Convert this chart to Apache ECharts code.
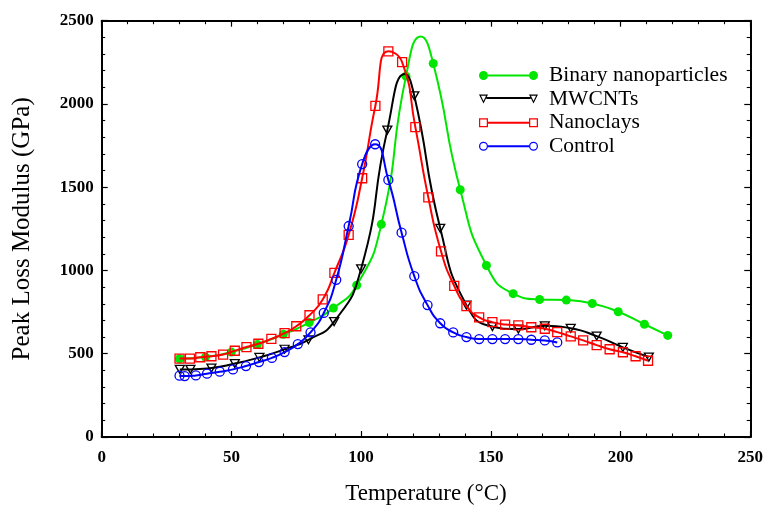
<!DOCTYPE html>
<html><head><meta charset="utf-8">
<script src="https://cdn.jsdelivr.net/npm/echarts@6/dist/echarts.min.js"></script>
<style>html,body{margin:0;padding:0;background:#fff}#c{width:766px;height:510px}</style>
</head><body><div id="c"></div>
<script>
// ---- data ----
const seriesNames = ['Binary nanoparticles', 'MWCNTs', 'Nanoclays', 'Control'];
const xTicks = [0, 50, 100, 150, 200, 250];
const yTicks = [0, 500, 1000, 1500, 2000, 2500];

const binaryT   = [30, 40, 50, 60, 70, 80, 89.3, 98.3, 107.8, 117.3, 127.8, 138.2, 148.3, 158.6, 168.8, 179.1, 189.1, 199.1, 209.2, 218.2];
const binaryVal = [470, 480, 510, 556, 617, 687, 774, 911, 1277, 2167, 2243, 1485, 1030, 861, 826, 822, 802, 752, 677, 610];
const binaryPeak = [123, 2405];   // top of the drawn curve (no marker)

const mwcntT   = [30.1, 34.2, 42.3, 51.3, 60.8, 70.5, 79.7, 89.6, 100, 110.1, 120.5, 130.5, 140.6, 150.6, 160.6, 170.8, 180.8, 190.8, 200.9, 210.9];
const mwcntVal = [406, 406, 414, 441, 478, 527, 584, 693, 1010, 1843, 2049, 1253, 792, 663, 648, 668, 653, 606, 538, 480];
const mwcntPeak = [116.9, 2180];

const clayT   = [30, 34, 38, 42.3, 46.8, 51.3, 55.8, 60.4, 65.4, 70.5, 75, 80.1, 85.2, 89.7, 95.2, 100.4, 105.5, 110.5, 115.8, 120.9, 125.9, 130.8, 135.9, 140.6, 145.5, 150.6, 155.5, 160.6, 165.6, 170.8, 175.6, 180.8, 185.6, 190.8, 195.8, 200.9, 205.8, 210.6];
const clayVal = [471, 471, 479, 485, 495, 518, 540, 560, 589, 624, 665, 731, 826, 986, 1214, 1554, 1989, 2316, 2251, 1861, 1439, 1115, 907, 786, 718, 690, 675, 670, 659, 650, 630, 604, 580, 552, 527, 509, 485, 458];

const controlT   = [30, 32, 36.3, 40.6, 45.5, 50.6, 55.6, 60.6, 65.6, 70.5, 75.6, 80.5, 85.6, 90.4, 95.2, 100.4, 105.4, 110.5, 115.6, 120.5, 125.6, 130.5, 135.5, 140.6, 145.5, 150.6, 155.5, 160.6, 165.6, 170.8, 175.6];
const controlVal = [368, 366, 370, 380, 392, 406, 426, 450, 475, 510, 558, 628, 745, 944, 1267, 1639, 1758, 1544, 1227, 966, 792, 683, 628, 600, 588, 588, 588, 588, 584, 580, 568];

const colors = ['#00e600', '#000000', '#ff0000', '#0000ff'];

// ---- helpers ----
function build(T, V, peak) {
  const pts = T.map((t, i) => ({ value: [t, V[i]] }));
  if (peak) pts.push({ value: [peak[0], peak[1]], symbol: 'none' });
  pts.sort((a, b) => a.value[0] - b.value[0]);
  return pts;
}
function circ(cx, cy, r, cw) {
  const s = cw ? 1 : 0;
  return `M${cx - r} ${cy}A${r} ${r} 0 1 ${s} ${cx + r} ${cy}A${r} ${r} 0 1 ${s} ${cx - r} ${cy}Z`;
}
function poly(p) { return 'M' + p.map(q => q[0] + ' ' + q[1]).join('L') + 'Z'; }
function shift(p, dx) { return p.map(q => [q[0] + dx, q[1]]); }
const W = 59, H = 9, R = 4.5, SW = 1.25;
const iconBinary = 'path://' + circ(R, R, R, true) + circ(W - R, R, R, true) + poly([[9, 3.5], [50, 3.5], [50, 5.5], [9, 5.5]]);
const iconControl = 'path://' + circ(R, R, R, true) + circ(R, R, R - SW, false) + circ(W - R, R, R, true) + circ(W - R, R, R - SW, false) + poly([[9, 3.5], [50, 3.5], [50, 5.5], [9, 5.5]]);
const sqO = [[0, 0], [9, 0], [9, 9], [0, 9]], sqI = [[SW, SW], [SW, 9 - SW], [9 - SW, 9 - SW], [9 - SW, SW]];
const iconClay = 'path://' + poly(sqO) + poly(sqI) + poly(shift(sqO, 50)) + poly(shift(sqI, 50)) + poly([[9, 3.5], [50, 3.5], [50, 5.5], [9, 5.5]]);
const trO = [[0, 0], [9, 0], [4.5, 9]], trI = [[1.94, 1.2], [4.5, 6.31], [7.06, 1.2]];
const iconMw = 'path://' + poly(trO) + poly(trI) + poly(shift(trO, 50)) + poly(shift(trI, 50)) + poly([[7.3, 2.5], [51.7, 2.5], [51.7, 4.5], [7.3, 4.5]]);

const serif = 'Liberation Serif';
const axisBase = {
  axisLine: { show: true, onZero: false, lineStyle: { color: '#000', width: 2 } },
  axisTick: { show: true, inside: true, length: 6, lineStyle: { color: '#000', width: 1.2 } },
  minorTick: { show: true, splitNumber: 5, length: 3.5, lineStyle: { color: '#000', width: 1.1 } },
  splitLine: { show: false },
  minorSplitLine: { show: false }
};
const tickLabel = { fontFamily: serif, fontWeight: 'bold', fontSize: 17, color: '#000', formatter: v => String(v) };

function lineSeries(idx, data, symbol, size, hollow, extra) {
  return Object.assign({
    name: seriesNames[idx], type: 'line', data: data, smooth: 0.55,
    symbol: symbol, symbolSize: size, showSymbol: true,
    lineStyle: { color: colors[idx], width: 2 },
    itemStyle: hollow ? { color: 'rgba(0,0,0,0)', borderColor: colors[idx], borderWidth: 1.3 }
                      : { color: colors[idx], borderWidth: 0 },
    emphasis: { disabled: true }, z: 2 + idx
  }, extra || {});
}

const chart = echarts.init(document.getElementById('c'), null, { renderer: 'canvas' });
chart.setOption({
  animation: false,
  backgroundColor: '#fff',
  grid: { left: 101.7, right: 14, top: 20.7, bottom: 68.3, containLabel: false },
  xAxis: [
    Object.assign({}, axisBase, {
      type: 'value', min: xTicks[0], max: xTicks[xTicks.length - 1], interval: xTicks[1] - xTicks[0],
      position: 'bottom',
      axisLabel: Object.assign({ margin: 12 }, tickLabel),
      name: 'Temperature (\u00B0C)', nameLocation: 'middle', nameGap: 45,
      nameTextStyle: { fontFamily: serif, fontSize: 23, color: '#000' }
    }),
    Object.assign({}, axisBase, {
      type: 'value', min: xTicks[0], max: xTicks[xTicks.length - 1], interval: xTicks[1] - xTicks[0],
      position: 'top', axisLabel: { show: false }
    })
  ],
  yAxis: [
    Object.assign({}, axisBase, {
      type: 'value', min: yTicks[0], max: yTicks[yTicks.length - 1], interval: yTicks[1] - yTicks[0],
      position: 'left',
      axisLabel: Object.assign({ margin: 8 }, tickLabel),
      name: 'Peak Loss Modulus (GPa)', nameLocation: 'middle', nameGap: 67,
      nameTextStyle: { fontFamily: serif, fontSize: 25, color: '#000' }
    }),
    Object.assign({}, axisBase, {
      type: 'value', min: yTicks[0], max: yTicks[yTicks.length - 1], interval: yTicks[1] - yTicks[0],
      position: 'right', axisLabel: { show: false }
    })
  ],
  legend: {
    orient: 'vertical', left: 479, top: 64.5, padding: 0, itemGap: 1.6,
    itemWidth: W, itemHeight: H, selectedMode: false,
    textStyle: { fontFamily: serif, fontSize: 21.5, color: '#000', padding: [0, 0, 0, 6] },
    itemStyle: { borderWidth: 0 },
    data: [
      { name: seriesNames[0], icon: iconBinary, itemStyle: { color: colors[0], borderWidth: 0 } },
      { name: seriesNames[1], icon: iconMw, itemStyle: { color: colors[1], borderWidth: 0 } },
      { name: seriesNames[2], icon: iconClay, itemStyle: { color: colors[2], borderWidth: 0 } },
      { name: seriesNames[3], icon: iconControl, itemStyle: { color: colors[3], borderWidth: 0 } }
    ]
  },
  series: [
    lineSeries(0, build(binaryT, binaryVal, binaryPeak), 'circle', 9, false),
    lineSeries(1, build(mwcntT, mwcntVal, mwcntPeak), 'triangle', [9, 8], true, { symbolRotate: 180 }),
    lineSeries(2, build(clayT, clayVal, null), 'rect', 9, true),
    lineSeries(3, build(controlT, controlVal, null), 'circle', 9, true)
  ]
});
</script>
</body></html>
